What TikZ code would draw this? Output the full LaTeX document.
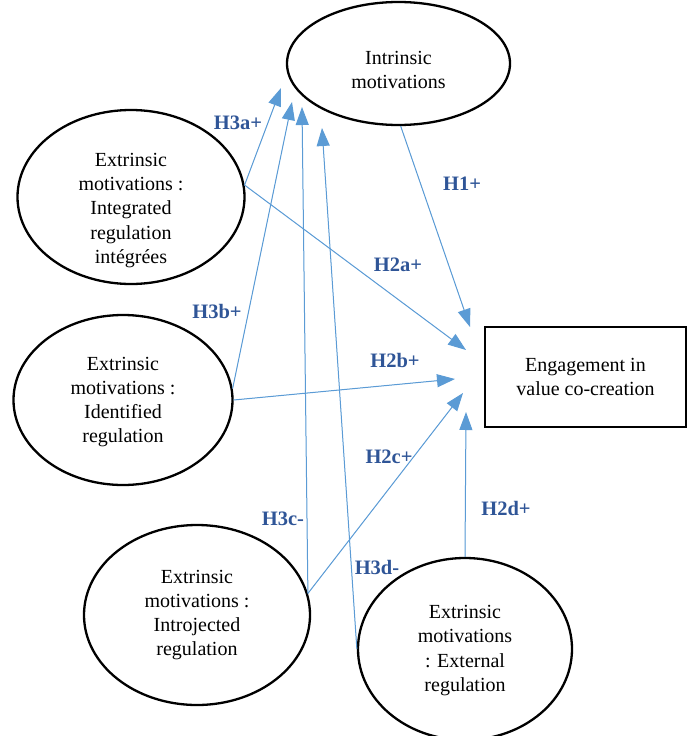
\documentclass[tikz,border=0pt]{standalone}
\usepackage{fontspec}
\setmainfont{Liberation Serif}
\usetikzlibrary{shapes.geometric,arrows.meta}
\definecolor{fleche}{HTML}{5B9BD5}
\definecolor{etiq}{HTML}{2F5597}
\begin{document}
\begin{tikzpicture}[x=1pt,y=-1pt,>={Triangle[length=18pt,width=13pt]},
  motiv/.style={ellipse,draw,line width=2.3pt,inner sep=0pt},
  txt/.style={align=center,font=\fontsize{20}{24.2}\selectfont},
  lien/.style={->,draw=fleche,fill=fleche,line width=1pt},
  hyp/.style={text=etiq,font=\fontsize{20.5}{24}\selectfont\bfseries}]
  \useasboundingbox (0,0) rectangle (690,736);

  % variables
  \node[motiv,minimum width=223pt,minimum height=123pt] (intr) at (398.5,63.5) {};
  \node[motiv,minimum width=227pt,minimum height=174pt] (integ) at (131,197) {};
  \node[motiv,minimum width=219pt,minimum height=170pt] (ident) at (123,400) {};
  \node[motiv,minimum width=226pt,minimum height=180pt] (intro) at (197,615) {};
  \node[motiv,minimum width=214pt,minimum height=182pt] (extern) at (465,649) {};
  \node[draw,line width=2.3pt,minimum width=201pt,minimum height=100pt] (eng)
    at (585.5,377) {};

  % textes
  \node[txt] (intr-t) at ([yshift=-6.5pt]intr.center) {Intrinsic\\motivations};
  \node[txt] (integ-t) at ([yshift=-13.5pt]integ.center)
    {Extrinsic\\motivations :\\Integrated\\regulation\\intégrées};
  \node[txt] (ident-t) at ([yshift=-2pt]ident.center)
    {Extrinsic\\motivations :\\Identified\\regulation};
  \node[txt] (intro-t) at (intro.center)
    {Extrinsic\\motivations :\\Introjected\\regulation};
  \node[txt] (extern-t) at ([yshift=-1.5pt]extern.center)
    {Extrinsic\\motivations\\: External\\regulation};
  \node[txt] (eng-t) at (eng.center) {Engagement in\\value co-creation};

  % pointes des fleches
  \coordinate (t3a) at (281,88);
  \coordinate (t3b) at (292,102);
  \coordinate (t3c) at (302,107);
  \coordinate (t3d) at (322,128);
  \coordinate (t1) at (470,327);
  \coordinate (t2a) at (466,350);
  \coordinate (t2b) at (455,379);
  \coordinate (t2c) at (463,393);
  \coordinate (t2d) at (466,412);

  % hypotheses
  \draw[lien] (integ.6) -- (t3a);
  \draw[lien] (ident.6) -- (t3b);
  \draw[lien] (intro.11) -- (t3c);
  \draw[lien] (extern.180) -- (t3d);
  \draw[lien] (intr.272) -- (t1);
  \draw[lien] (integ.6) -- (t2a);
  \draw[lien] (ident.east) -- (t2b);
  \draw[lien] (intro.11) -- (t2c);
  \draw[lien] (extern.north) -- (t2d);

  % etiquettes
  \node[hyp] (h3a) at (238,123) {H3a+};
  \node[hyp] (h1) at (462,184) {H1+};
  \node[hyp] (h2a) at (398,265) {H2a+};
  \node[hyp] (h3b) at (217,311) {H3b+};
  \node[hyp] (h2b) at (395,360) {H2b+};
  \node[hyp] (h2c) at (389,457) {H2c+};
  \node[hyp] (h2d) at (506,508) {H2d+};
  \node[hyp] (h3c) at (283,519) {H3c-};
  \node[hyp] (h3d) at (377,567) {H3d-};
\end{tikzpicture}
\end{document}
